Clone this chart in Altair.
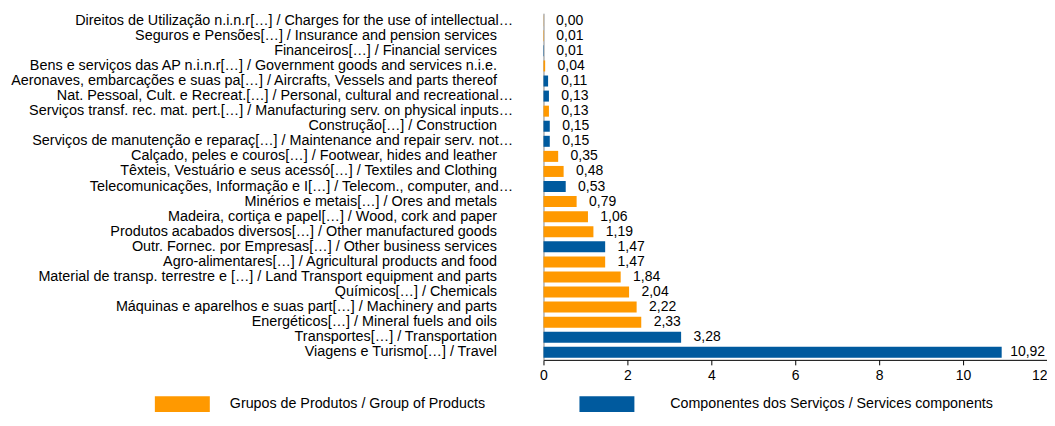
import altair as alt
import pandas as pd

GP = "Grupos de Produtos / Group of Products"
CS = "Componentes dos Serviços / Services components"

categories = [
    "Direitos de Utilização n.i.n.r[…] / Charges for the use of intellectual…",
    "Seguros e Pensões[…] / Insurance and pension services",
    "Financeiros[…] / Financial services",
    "Bens e serviços das AP n.i.n.r[…] / Government goods and services n.i.e.",
    "Aeronaves, embarcações e suas pa[…] / Aircrafts, Vessels and parts thereof",
    "Nat. Pessoal, Cult. e Recreat.[…] / Personal, cultural and recreational…",
    "Serviços transf. rec. mat. pert.[…] / Manufacturing serv. on physical inputs…",
    "Construção[…] / Construction",
    "Serviços de manutenção e reparaç[…] / Maintenance and repair serv. not…",
    "Calçado, peles e couros[…] / Footwear, hides and leather",
    "Têxteis, Vestuário e seus acessó[…] / Textiles and Clothing",
    "Telecomunicações, Informação e I[…] / Telecom., computer, and…",
    "Minérios e metais[…] / Ores and metals",
    "Madeira, cortiça e papel[…] / Wood, cork and paper",
    "Produtos acabados diversos[…] / Other manufactured goods",
    "Outr. Fornec. por Empresas[…] / Other business services",
    "Agro-alimentares[…] / Agricultural products and food",
    "Material de transp. terrestre e […] / Land Transport equipment and parts",
    "Químicos[…] / Chemicals",
    "Máquinas e aparelhos e suas part[…] / Machinery and parts",
    "Energéticos[…] / Mineral fuels and oils",
    "Transportes[…] / Transportation",
    "Viagens e Turismo[…] / Travel",
]
values = [0.004, 0.01, 0.01, 0.04, 0.11, 0.13, 0.13, 0.15, 0.15, 0.35, 0.48, 0.53,
          0.79, 1.06, 1.19, 1.47, 1.47, 1.84, 2.04, 2.22, 2.33, 3.28, 10.92]
groups = [GP, GP, CS, GP, CS, CS, GP, CS, CS, GP, GP, CS,
          GP, GP, GP, CS, GP, GP, GP, GP, GP, CS, CS]
x_ticks = [0, 2, 4, 6, 8, 10, 12]

ORANGE = "#FF9900"
BLUE = "#005A9E"
FONT = "Liberation Sans"

df = pd.DataFrame({"cat": categories, "val": values, "grp": groups})

PAD4 = "\u00a0\u00a0\u00a0\u00a0"
ZW = "\u200b"
ylab = ("substring(datum.label, length(datum.label) - 1) == '…' ? datum.label : "
        "datum.label + '" + PAD4 + ZW + "'")
leglab = "datum.label == '" + CS + "' ? '" + ZW + PAD4 + "' + datum.label : datum.label"

base = alt.Chart(df).encode(
    y=alt.Y(
        "cat:N",
        sort=categories,
        scale=alt.Scale(paddingInner=0.27, paddingOuter=0.135),
        axis=alt.Axis(
            title=None, labelLimit=800, labelPadding=31, ticks=False,
            domainColor="#888888", labelColor="#000000", labelFont=FONT,
            labelFontSize=14.4, minExtent=536, maxExtent=536, labelExpr=ylab,
        ),
    )
)

bars = base.mark_bar().encode(
    x=alt.X(
        "val:Q",
        scale=alt.Scale(domain=[0, 12], nice=False),
        axis=alt.Axis(
            values=x_ticks, title=None, grid=False, domainColor="#000000",
            tickColor="#000000", tickSize=5, labelFont=FONT, labelFontSize=14,
            labelColor="#000000", labelPadding=4, format="d",
            labelFlush=False, labelOverlap=False,
            labelAlign={"condition": {"test": "datum.value == 12", "value": "right"},
                        "value": "center"},
        ),
    ),
    color=alt.Color(
        "grp:N",
        scale=alt.Scale(domain=[GP, CS], range=[ORANGE, BLUE]),
        legend=alt.Legend(
            title=None, orient="none", legendX=-389, legendY=364,
            direction="horizontal", symbolType="M-1,-0.3H1V0.3H-1Z",
            symbolSize=3025, symbolStrokeWidth=0, symbolOpacity=1,
            labelOffset=20, columnPadding=94, labelFont=FONT, labelFontSize=14.3,
            labelColor="#000000", labelLimit=600, padding=0, labelExpr=leglab,
        ),
    ),
)

text = base.mark_text(align="center", dx=26, font=FONT, fontSize=14, color="#000000").encode(
    x=alt.X("val:Q"),
    text=alt.Text("lbl:N"),
).transform_calculate(lbl="replace(format(datum.val, '.2f'), '.', ',')")

chart = alt.layer(bars, text).properties(
    width=504, height=347,
    autosize=alt.AutoSizeParams(type="none"),
    padding={"left": 536, "top": 5, "right": 0, "bottom": 52},
).configure_view(stroke=None)

chart.save("out.html", embed_options={"renderer": "svg", "actions": False})
